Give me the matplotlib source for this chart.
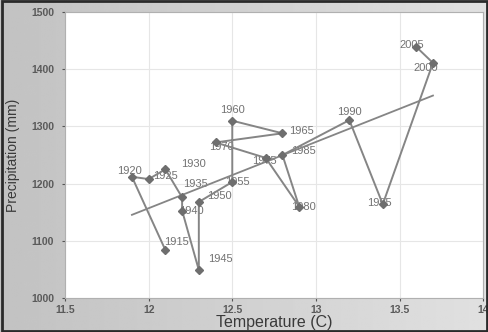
import numpy as np
import matplotlib
matplotlib.use("Agg")
import matplotlib.pyplot as plt

plt.rcParams["font.family"] = ["Liberation Sans", "DejaVu Sans"]

# Mean temperature (C) and precipitation (mm) for each 5-year step
years = [1915, 1920, 1925, 1930, 1935, 1940, 1945, 1950, 1955, 1960,
         1965, 1970, 1975, 1980, 1985, 1990, 1995, 2000, 2005]
temperature = [12.1, 11.9, 12.0, 12.1, 12.2, 12.2, 12.3, 12.3, 12.5, 12.5,
               12.8, 12.4, 12.7, 12.9, 12.8, 13.2, 13.4, 13.7, 13.6]
precipitation = [1084, 1212, 1208, 1225, 1176, 1153, 1049, 1168, 1203, 1310,
                 1288, 1272, 1245, 1160, 1250, 1311, 1164, 1411, 1439]

x_ticks = [11.5, 12, 12.5, 13, 13.5, 14]
x_ticklabels = ["11.5", "12", "12.5", "13", "13.5", "14"]
y_ticks = [1000, 1100, 1200, 1300, 1400, 1500]

# label offsets in points (dx, dy, horizontal alignment)
label_pos = {
    1915: (-1, 6, "left"), 1920: (-2, 4, "center"), 1925: (3, 2, "left"),
    1930: (11, 4, "left"), 1935: (1, 10, "left"), 1940: (-2, 0, "left"),
    1945: (7, 8, "left"), 1950: (6, 4, "left"), 1955: (-5, 0, "left"),
    1960: (0, 8, "center"), 1965: (5, 2, "left"), 1970: (-5, -3, "left"),
    1975: (-10, -2, "left"), 1980: (-6, 0, "left"), 1985: (6, 3, "left"),
    1990: (0, 6, "center"), 1995: (-11, 1, "left"), 2000: (-14, -4, "left"),
    2005: (-12, 1, "left"),
}

fig = plt.figure(figsize=(4.89, 3.32), dpi=100)

# light grey backdrop, a touch darker toward the left
bg = fig.add_axes([0, 0, 1, 1], zorder=-10)
grad = np.linspace(0, 1, 256)
row = 0.76 + 0.12 * grad
bg.imshow(np.tile(row, (10, 1)), cmap="gray", vmin=0, vmax=1,
          aspect="auto", extent=[0, 1, 0, 1])
bg.set_axis_off()
fig.patches.append(plt.Rectangle((0.004, 0.004), 0.992, 0.992,
                                 transform=fig.transFigure, fill=False,
                                 edgecolor="#2a2a2a", linewidth=2))

ax = fig.add_axes([0.133, 0.102, 0.855, 0.862])
ax.set_facecolor("white")

ax.plot(temperature, precipitation, color="#858585", linewidth=1.4,
        marker="D", markersize=4.5, markerfacecolor="#6e6e6e",
        markeredgecolor="#6e6e6e", zorder=4)

# linear trend across the temperature range
slope, intercept = np.polyfit(temperature, precipitation, 1)
tx = np.array([min(temperature), max(temperature)])
ax.plot(tx, slope * tx + intercept, color="#858585", linewidth=1.3, zorder=3)

for yr, t, p in zip(years, temperature, precipitation):
    dx, dy, ha = label_pos[yr]
    ax.annotate(str(yr), (t, p), xytext=(dx, dy), textcoords="offset points",
                ha=ha, va="center", fontsize=8, color="#727272", zorder=2)

ax.set_xlim(11.5, 14)
ax.set_ylim(1000, 1500)
ax.set_xticks(x_ticks)
ax.set_xticklabels(x_ticklabels)
ax.set_yticks(y_ticks)
ax.grid(True, color="#e6e6e6", linewidth=0.8)
ax.set_axisbelow(True)
for side in ax.spines.values():
    side.set_color("#b0b0b0")
    side.set_linewidth(0.8)
ax.tick_params(axis="both", labelsize=7.5, colors="#555555", length=2)
ax.tick_params(axis="x", pad=3)
ax.tick_params(axis="y", pad=6)
for lbl in ax.get_xticklabels() + ax.get_yticklabels():
    lbl.set_fontweight("bold")
    lbl.set_color("#5a5a5a")

ax.set_xlabel("Temperature (C)", fontsize=11.5, color="#3a3a3a", labelpad=0)
ax.set_ylabel("Precipitation (mm)", fontsize=10, color="#3a3a3a", labelpad=8)

fig.savefig("out.png", dpi=100)
